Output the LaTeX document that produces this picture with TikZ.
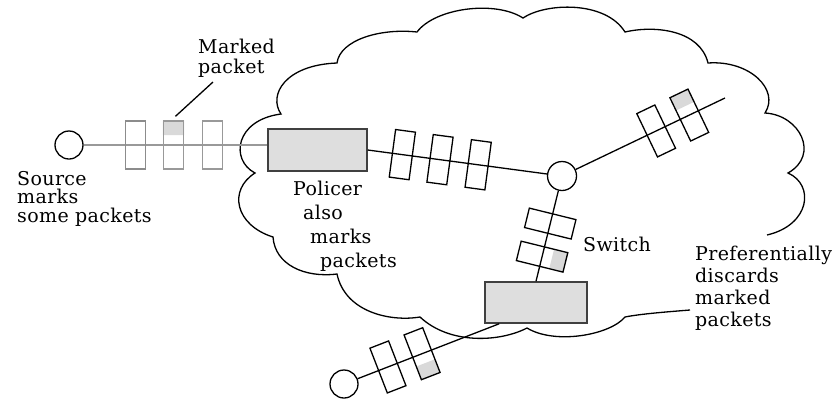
\documentclass[tikz,border=0pt]{standalone}
\usepackage{fontspec}
\setmainfont{DejaVu Serif}[LetterSpace=2]
\usetikzlibrary{calc,backgrounds}

\tikzset{
  pkt/.style={draw, line width=1.3pt, minimum width=20pt, minimum height=48pt, inner sep=0pt, sloped},
  host/.style={draw, circle, line width=1.3pt, minimum size=28pt, inner sep=0pt},
  router/.style={draw=black!75, line width=1.5pt, fill=black!13, inner sep=0pt},
  lbl/.style={align=left, inner sep=0pt, anchor=north west, font=\fontsize{19}{22}\selectfont},
  link/.style={line width=1.3pt},
  markfill/.style={fill=black!15}
}

\begin{document}
\begin{tikzpicture}[x=1pt, y=-1pt]
\useasboundingbox (0,0) rectangle (833,400);

\draw[line width=1.3pt] (690,310) .. controls (665,312) and (640,314) .. (625,317)
  .. controls (610,335) and (555,345) .. (527,328)
  .. controls (500,342) and (450,345) .. (420,317)
  .. controls (390,322) and (345,312) .. (337,274)
  .. controls (305,278) and (275,265) .. (273,237)
  .. controls (235,225) and (228,190) .. (255,173)
  .. controls (230,160) and (235,120) .. (281,114)
  .. controls (268,95) and (285,65) .. (337,63)
  .. controls (340,40) and (380,28) .. (417,32)
  .. controls (435,8) and (495,0) .. (523,18)
  .. controls (545,3) and (605,0) .. (625,32)
  .. controls (655,25) and (700,30) .. (708,63)
  .. controls (750,60) and (780,90) .. (765,113)
  .. controls (800,115) and (820,155) .. (788,173)
  .. controls (815,185) and (810,225) .. (767,235);

\node[host] (src) at (69,145) {};
\node[router, minimum width=99pt, minimum height=42pt] (pol) at (317.5,150) {};
\node[host, minimum size=29pt] (sw) at (562,176) {};
\node[router, minimum width=102pt, minimum height=41pt] (disc) at (536,302.5) {};
\node[host] (dst) at (344,384) {};
\coordinate (exit) at (725,98);
\coordinate (mkend) at (213,82);

\draw[link, draw=black!40, line width=2.4pt] (src) -- (src -| pol.west)
  node[pkt, draw=black!45, pos=0.281] (a1) {}
  node[pkt, pos=0.489] (a2) {}
  node[pkt, pos=0.70] (a3) {};
\draw[link] (pol.east) -- (sw)
  node[pkt, pos=0.193] (b1) {}
  node[pkt, pos=0.403] (b2) {}
  node[pkt, pos=0.616] (b3) {};
\draw[link] (sw) -- (exit)
  node[pkt, pos=0.539] (c1) {}
  node[pkt, pos=0.761] (c2) {};
\draw[link] (sw) -- (disc.north)
  node[pkt, pos=0.363] (d1) {}
  node[pkt, pos=0.728] (d2) {};
\draw[link] (disc.210) -- (dst)
  node[pkt, pos=0.545] (f2) {}
  node[pkt, pos=0.786] (f1) {};

\begin{scope}[on background layer]
\fill[markfill] (a2.north west) -- (a2.north east) -- ($(a2.north east)!0.3!(a2.south east)$) -- ($(a2.north west)!0.3!(a2.south west)$) -- cycle;
\fill[markfill] (c2.north west) -- (c2.north east) -- ($(c2.north east)!0.3!(c2.south east)$) -- ($(c2.north west)!0.3!(c2.south west)$) -- cycle;
\fill[markfill] (d2.south west) -- (d2.south east) -- ($(d2.south east)!0.3!(d2.north east)$) -- ($(d2.south west)!0.3!(d2.north west)$) -- cycle;
\fill[markfill] (f2.south west) -- (f2.south east) -- ($(f2.south east)!0.3!(f2.north east)$) -- ($(f2.south west)!0.3!(f2.north west)$) -- cycle;
\end{scope}

\draw[link] ($(a2.north)+(2,-4)$) -- (mkend);

\node[lbl, font=\fontsize{19}{20}\selectfont] (mk) at (198,39) {Marked\\packet};
\node[lbl, font=\fontsize{19}{18.5}\selectfont] (srctxt) at (17,171) {Source\\marks\\some packets};
\node[lbl, font=\fontsize{19}{24}\selectfont] (poltxt) at (293,181) {Policer\\\hspace*{10pt}also\\\hspace*{17pt}marks\\\hspace*{27pt}packets};
\node[lbl] (swtxt) at (583,237) {Switch};
\node[lbl] (disctxt) at (695,246) {Preferentially\\discards\\marked\\packets};

\end{tikzpicture}
\end{document}
